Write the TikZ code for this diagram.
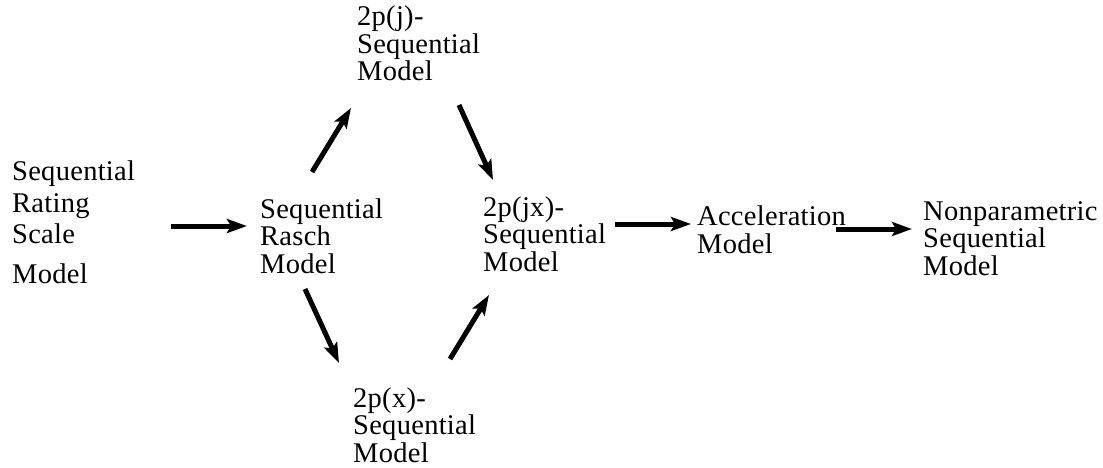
\documentclass[tikz,border=0pt]{standalone}
\usepackage{fontspec}
\setmainfont{Liberation Serif}[LetterSpace=1]
\usetikzlibrary{arrows.meta,calc}
\begin{document}
\begin{tikzpicture}[x=1pt,y=1pt,
  lbl/.style={anchor=base west,inner sep=0pt,align=left,font=\fontsize{28.5}{27.5}\selectfont},
  arr/.style={line width=5pt,-{Stealth[length=20pt,width=14pt,inset=4pt]}}]
\useasboundingbox (0,0) rectangle (1103,-468);
% base west = baseline of the last line
\node[lbl,font=\fontsize{28.5}{31.5}\selectfont] (srs) at (12,-283) {Sequential\\Rating\\Scale\\[8pt]Model};
\node[lbl] (rasch) at (260,-273) {Sequential\\Rasch\\Model};
\node[lbl] (j) at (357,-81) {2p(j)-\\Sequential\\Model};
\node[lbl] (x) at (353,-462) {2p(x)-\\Sequential\\Model};
\node[lbl] (jx) at (483,-271) {2p(jx)-\\Sequential\\Model};
\node[lbl] (acc) at (697,-253) {Acceleration\\Model};
\node[lbl] (np) at (923,-275) {Nonparametric\\Sequential\\Model};
\draw[arr] ($(srs.base west)+(159,57)$) -- ($(rasch.base west)+(-13,47)$);
\draw[arr] ($(rasch.base west)+(52,101)$) -- ($(j.base west)+(-6,-27)$);
\draw[arr] ($(j.base west)+(102,-24)$) -- ($(jx.base west)+(10,91)$);
\draw[arr] ($(rasch.base west)+(45,-16)$) -- ($(x.base west)+(-14,99)$);
\draw[arr] ($(x.base west)+(97,103)$) -- ($(jx.base west)+(6,-24)$);
\draw[arr] ($(jx.base west)+(132,47)$) -- ($(acc.base west)+(-6,29)$);
\draw[arr] ($(acc.base west)+(139,24)$) -- ($(np.base west)+(-11,46)$);
\end{tikzpicture}
\end{document}
